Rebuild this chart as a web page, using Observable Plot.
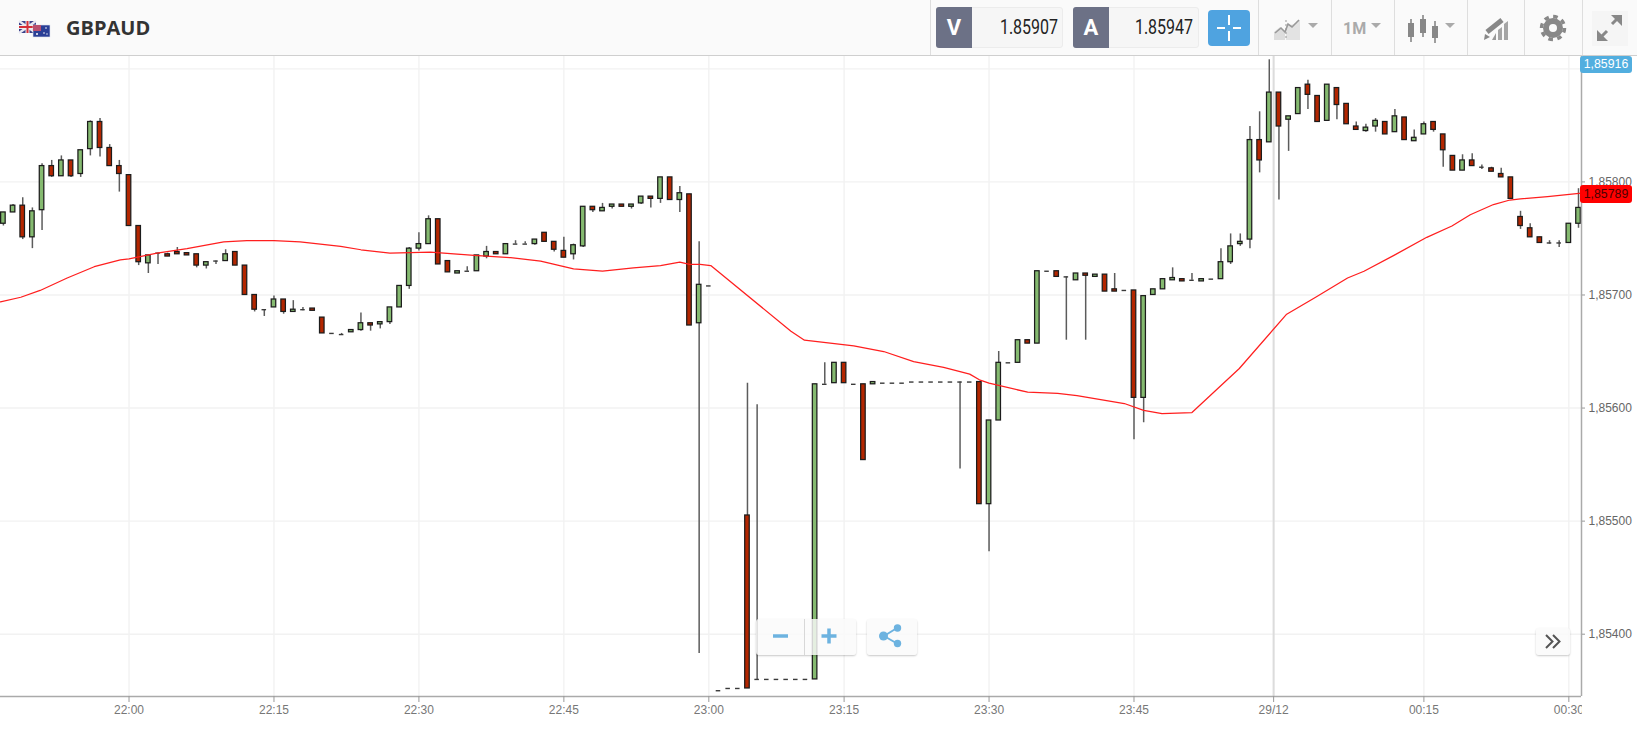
<!DOCTYPE html>
<html>
<head>
<meta charset="utf-8">
<script src="https://cdn.jsdelivr.net/npm/d3@7"></script>
<script src="https://cdn.jsdelivr.net/npm/@observablehq/plot@0.6"></script>
<style>
html,body{margin:0;padding:0;background:#fff;overflow:hidden}
#stage{position:relative;width:1637px;height:729px;overflow:hidden;font-family:"Liberation Sans",Arial,sans-serif}
#stage>*{position:absolute}
#chart{left:0;top:0}
#chart svg{display:block}
.sep{top:0;width:1px;height:55px;background:#dedede}
.vbox{top:7px;height:41px;background:#f6f6f6;border:1px solid #ececec;box-sizing:border-box;border-radius:3px}
.tag{top:7px;height:41px;width:36px;background:#6c7186;color:#fff;font:700 22px Roboto,sans-serif;line-height:41px;text-align:center;border-radius:3px 0 0 3px}
.num{top:7px;height:41px;color:#222;font:400 20px Roboto,sans-serif;line-height:41px;transform:scaleX(.8);transform-origin:center;text-align:center;width:80px}
.btn{background:rgba(250,250,250,.82);border-radius:3px;box-shadow:0 1px 2px rgba(0,0,0,.22)}
.badge{left:1580px;width:52px;text-align:center;font-size:12.3px;border-radius:3px}
</style>
</head>
<body>
<div id="stage">
  <div id="chart"></div>

  <!-- white strip that cuts the last time label at the price axis -->
  <div style="left:1582px;top:697px;width:55px;height:32px;background:#fff"></div>

  <!-- toolbar -->
  <div style="left:0;top:0;width:1637px;height:55px;background:#fafafa;border-bottom:1.5px solid #cfcfcf;box-sizing:content-box"></div>
  <div class="sep" style="left:930px"></div><div class="sep" style="left:1258px"></div>
  <div class="sep" style="left:1331px"></div><div class="sep" style="left:1394px"></div>
  <div class="sep" style="left:1467px"></div><div class="sep" style="left:1524px"></div>
  <div class="sep" style="left:1582px"></div>

  <div style="left:66px;top:13px;font:700 20px 'Open Sans',sans-serif;color:#333;line-height:30px">GBPAUD</div>

  <div class="vbox" style="left:936px;width:127px"></div>
  <div class="tag" style="left:936px">V</div>
  <div class="num" style="left:989px">1.85907</div>
  <div class="vbox" style="left:1073px;width:126px"></div>
  <div class="tag" style="left:1073px">A</div>
  <div class="num" style="left:1124px">1.85947</div>
  <div style="left:1208px;top:10px;width:42px;height:36px;background:#4fa3e0;border-radius:4px"></div>
  <div style="left:1343px;top:17px;font:700 16px Roboto,sans-serif;color:#aaa;line-height:24px">1M</div>
  <div style="left:1536px;top:628px;width:34px;height:27px" class="btn"></div>
  <div style="left:756px;top:619px;width:100px;height:36px" class="btn"></div>
  <div style="left:867px;top:619px;width:50px;height:36px" class="btn"></div>
  <div style="left:804px;top:619px;width:1px;height:36px;background:#d8d8d8"></div>

  <svg width="1637" height="729" style="left:0;top:0;pointer-events:none">
    <!-- flags -->
    <g><rect x="19" y="21" width="17" height="12" fill="#39418a"/>
      <path d="M19 21L36 33M36 21L19 33" stroke="#e9e9f2" stroke-width="2.4"/>
      <path d="M27.5 21V33M19 27H36" stroke="#eee" stroke-width="4"/>
      <path d="M27.5 21V33M19 27H36" stroke="#d4303a" stroke-width="2"/>
      <rect x="33" y="25" width="17" height="12" fill="#2a3f96" stroke="#dfe3ef" stroke-width=".6"/>
      <rect x="33" y="25" width="8" height="6" fill="#b9506f"/>
      <circle cx="37" cy="34" r="1" fill="#fff"/><circle cx="46" cy="28" r=".8" fill="#fff"/><circle cx="44" cy="33" r=".8" fill="#fff"/><circle cx="47" cy="34" r=".7" fill="#fff"/></g>
    <!-- crosshair -->
    <path d="M1229 15v10M1229 31v10M1217 28h8M1233 28h8" stroke="#fff" stroke-width="2" fill="none"/>
    <!-- chart type -->
    <path d="M1274 40V32L1280 27L1285 32V40Z" fill="#ddd"/><path d="M1286 40V26L1294 24L1300 20V40Z" fill="#e3e3e3"/>
    <path d="M1275 33L1281 28L1285 32L1288 24L1292 27L1299 20" stroke="#999" stroke-width="1.6" fill="none"/>
    <path d="M1286 20V40" stroke="#999" stroke-width="1" stroke-dasharray="2 2"/>
    <path d="M1308 23h10l-5 5z" fill="#aaa"/><path d="M1371 23h10l-5 5z" fill="#aaa"/><path d="M1445 23h10l-5 5z" fill="#aaa"/>
    <!-- candles -->
    <g stroke="#888" stroke-width="1.6"><path d="M1411 19V42M1423 15V37M1435 21V43"/></g>
    <g fill="#888"><rect x="1408" y="23" width="6" height="14"/><rect x="1420" y="19" width="6" height="14"/><rect x="1432" y="26" width="6" height="12"/></g>
    <!-- signal pencil -->
    <g fill="#a5a5a5"><path d="M1498 40V30L1502 27V40Z"/><path d="M1504 40V24L1508 21V40Z"/></g>
    <path d="M1487 32L1502 20" stroke="#888" stroke-width="5"/><path d="M1484 40L1485 34L1490 37Z" fill="#888"/><path d="M1492 40L1496 33V40Z" fill="#999"/>
    <!-- gear -->
    <circle cx="1553" cy="28" r="7" fill="none" stroke="#888" stroke-width="6"/>
    <circle cx="1553" cy="28" r="11.5" fill="none" stroke="#888" stroke-width="3.5" stroke-dasharray="4.6 4.4"/>
    <!-- expand -->
    <rect x="1592" y="11" width="36" height="35" fill="#f5f5f5"/>
    <g stroke="#888" stroke-width="3" fill="none"><path d="M1600 38L1607 31M1612 24L1619 17"/></g>
    <g fill="#888"><path d="M1597 30V41H1608Z"/><path d="M1622 26V15H1611Z"/></g>
    <!-- zoom -->
    <path d="M773 636h15" stroke="#6db3e0" stroke-width="3.5"/>
    <path d="M821.5 636h15M829 628.5v15" stroke="#6db3e0" stroke-width="3.5"/>
    <g fill="#6db3e0"><circle cx="883.5" cy="636" r="4.5"/><circle cx="897.5" cy="628" r="3.7"/><circle cx="897.5" cy="643.5" r="3.7"/></g>
    <path d="M884 636L897 628M884 636L897 643.5" stroke="#6db3e0" stroke-width="2"/>
    <path d="M1546 636l6.5 6.5l-6.5 6.5M1553 636l6.5 6.5l-6.5 6.5" transform="translate(0,-1)" fill="none" stroke="#555" stroke-width="2"/>
  </svg>

  <div class="badge" style="top:56px;height:17px;line-height:17px;background:#52aedf;color:#fff">1,85916</div>
  <div class="badge" style="top:185px;height:18px;line-height:18px;background:#ff0000;color:#4a0000">1,85789</div>
</div>

<script>
// OHLC prices, one candle per slot, first slot = -13 (slot 0 is 22:00)
const firstSlot = -13;
const opens = [
1.85763,1.85773,1.85779,1.85751,1.85775,1.85814,1.85805,1.85819,1.85807,1.85829,
1.85853,1.85830,1.85814,1.85806,1.85761,1.85728,1.85737,1.85736,1.85738,1.85737,
1.85736,1.85726,1.85730,1.85730,1.85738,1.85726,1.85700,1.85687,1.85689,1.85696,
1.85685,1.85687,1.85688,1.85680,1.85666,1.85665,1.85667,1.85669,1.85675,1.85674,
1.85676,1.85689,1.85708,1.85741,1.85745,1.85767,1.85730,1.85719,1.85721,1.85721,
1.85734,1.85738,1.85736,1.85745,1.85745,1.85745,1.85755,1.85747,1.85739,1.85736,
1.85743,1.85778,1.85774,1.85778,1.85780,1.85778,1.85781,1.85787,1.85785,1.85804,
1.85784,1.85789,1.85675,1.85708,1.85350,1.85352,1.85352,1.85505,1.85360,1.85360,
1.85360,1.85360,1.85360,1.85360,1.85360,1.85621,1.85622,1.85640,1.85621,1.85621,
1.85621,1.85622,1.85622,1.85622,1.85623,1.85623,1.85623,1.85623,1.85623,1.85623,
1.85623,1.85623,1.85515,1.85589,1.85640,1.85640,1.85660,1.85657,1.85721,1.85721,
1.85716,1.85713,1.85719,1.85716,1.85718,1.85705,1.85704,1.85704,1.85609,1.85700,
1.85705,1.85713,1.85714,1.85713,1.85712,1.85714,1.85714,1.85729,1.85745,1.85749,
1.85837,1.85835,1.85879,1.85855,1.85860,1.85886,1.85876,1.85854,1.85883,1.85869,
1.85849,1.85845,1.85849,1.85853,1.85844,1.85857,1.85836,1.85842,1.85853,1.85842,
1.85823,1.85810,1.85819,1.85813,1.85812,1.85807,1.85804,1.85769,1.85759,1.85751,
1.85746,1.85746,1.85746,1.85763];
const highs = [
1.85773,1.85780,1.85786,1.85777,1.85816,1.85819,1.85823,1.85819,1.85828,1.85854,
1.85856,1.85833,1.85819,1.85806,1.85761,1.85735,1.85737,1.85737,1.85742,1.85737,
1.85736,1.85729,1.85730,1.85740,1.85738,1.85726,1.85700,1.85687,1.85699,1.85696,
1.85695,1.85689,1.85688,1.85680,1.85666,1.85666,1.85669,1.85684,1.85675,1.85676,
1.85689,1.85708,1.85742,1.85755,1.85770,1.85767,1.85730,1.85721,1.85725,1.85735,
1.85743,1.85738,1.85745,1.85748,1.85747,1.85749,1.85755,1.85747,1.85751,1.85745,
1.85778,1.85778,1.85781,1.85780,1.85780,1.85780,1.85787,1.85787,1.85804,1.85804,
1.85796,1.85789,1.85747,1.85708,1.85350,1.85352,1.85352,1.85622,1.85603,1.85360,
1.85360,1.85360,1.85360,1.85360,1.85621,1.85640,1.85640,1.85640,1.85621,1.85621,
1.85623,1.85622,1.85622,1.85622,1.85623,1.85623,1.85623,1.85623,1.85623,1.85623,
1.85623,1.85623,1.85589,1.85650,1.85640,1.85660,1.85660,1.85721,1.85721,1.85721,
1.85716,1.85719,1.85719,1.85718,1.85718,1.85719,1.85704,1.85704,1.85699,1.85705,
1.85714,1.85724,1.85714,1.85719,1.85714,1.85714,1.85741,1.85754,1.85754,1.85849,
1.85862,1.85908,1.85879,1.85858,1.85883,1.85890,1.85876,1.85886,1.85883,1.85869,
1.85853,1.85851,1.85856,1.85853,1.85864,1.85857,1.85846,1.85853,1.85853,1.85842,
1.85823,1.85824,1.85825,1.85815,1.85813,1.85812,1.85804,1.85774,1.85763,1.85751,
1.85748,1.85748,1.85763,1.85794];
const lows = [
1.85761,1.85773,1.85749,1.85741,1.85757,1.85804,1.85805,1.85804,1.85804,1.85823,
1.85822,1.85814,1.85791,1.85761,1.85726,1.85719,1.85727,1.85734,1.85736,1.85735,
1.85724,1.85723,1.85727,1.85730,1.85726,1.85700,1.85685,1.85681,1.85689,1.85683,
1.85685,1.85686,1.85686,1.85666,1.85666,1.85665,1.85667,1.85668,1.85668,1.85670,
1.85674,1.85689,1.85705,1.85739,1.85745,1.85727,1.85720,1.85719,1.85721,1.85721,
1.85732,1.85736,1.85736,1.85745,1.85745,1.85744,1.85747,1.85738,1.85733,1.85731,
1.85742,1.85773,1.85774,1.85776,1.85778,1.85776,1.85780,1.85777,1.85781,1.85784,
1.85773,1.85673,1.85383,1.85708,1.85350,1.85352,1.85352,1.85352,1.85360,1.85360,
1.85360,1.85360,1.85360,1.85360,1.85360,1.85621,1.85622,1.85622,1.85621,1.85554,
1.85621,1.85622,1.85622,1.85622,1.85623,1.85623,1.85623,1.85623,1.85623,1.85546,
1.85623,1.85515,1.85473,1.85589,1.85640,1.85640,1.85657,1.85657,1.85721,1.85716,
1.85660,1.85713,1.85660,1.85716,1.85703,1.85703,1.85704,1.85572,1.85587,1.85700,
1.85705,1.85713,1.85712,1.85713,1.85712,1.85714,1.85714,1.85727,1.85743,1.85741,
1.85808,1.85835,1.85784,1.85827,1.85860,1.85864,1.85853,1.85854,1.85855,1.85851,
1.85846,1.85844,1.85844,1.85842,1.85844,1.85837,1.85836,1.85842,1.85844,1.85813,
1.85810,1.85810,1.85814,1.85811,1.85809,1.85804,1.85785,1.85758,1.85751,1.85746,
1.85745,1.85742,1.85746,1.85759];
const closes = [
1.85773,1.85779,1.85751,1.85774,1.85814,1.85805,1.85819,1.85805,1.85828,1.85853,
1.85830,1.85814,1.85807,1.85761,1.85729,1.85735,1.85737,1.85734,1.85736,1.85735,
1.85726,1.85729,1.85730,1.85736,1.85726,1.85700,1.85687,1.85687,1.85696,1.85685,
1.85687,1.85687,1.85686,1.85666,1.85666,1.85665,1.85669,1.85675,1.85673,1.85676,
1.85689,1.85708,1.85741,1.85745,1.85767,1.85727,1.85720,1.85721,1.85721,1.85735,
1.85738,1.85736,1.85745,1.85745,1.85745,1.85749,1.85747,1.85740,1.85733,1.85744,
1.85778,1.85775,1.85777,1.85780,1.85778,1.85780,1.85787,1.85785,1.85804,1.85784,
1.85790,1.85673,1.85709,1.85708,1.85350,1.85352,1.85352,1.85352,1.85360,1.85360,
1.85360,1.85360,1.85360,1.85360,1.85621,1.85621,1.85640,1.85622,1.85621,1.85554,
1.85623,1.85622,1.85622,1.85622,1.85623,1.85623,1.85623,1.85623,1.85623,1.85623,
1.85623,1.85515,1.85589,1.85640,1.85640,1.85660,1.85657,1.85721,1.85721,1.85716,
1.85716,1.85719,1.85717,1.85718,1.85703,1.85703,1.85704,1.85609,1.85699,1.85705,
1.85714,1.85715,1.85712,1.85713,1.85714,1.85714,1.85729,1.85743,1.85747,1.85837,
1.85819,1.85879,1.85849,1.85858,1.85883,1.85877,1.85853,1.85886,1.85868,1.85851,
1.85846,1.85848,1.85854,1.85842,1.85858,1.85837,1.85839,1.85851,1.85846,1.85828,
1.85810,1.85819,1.85814,1.85813,1.85809,1.85804,1.85785,1.85761,1.85751,1.85746,
1.85746,1.85746,1.85763,1.85777];

// red moving average
const maSlots = [-13.3,-11.2,-9.2,-6.4,-3.6,-0.9,0,2.9,6,9.8,12.2,15,17.7,21.9,24,27,31.2,35.7,39.5,42.6,46,49,52.2,55,57,58,59.1,60.2,68.5,69.9,75,78.1,81.2,84.3,87,88,89,93,96.1,98.1,103,105,106.9,110,114.9,119.8,122.8,126.1,127.8,130.9,134.3,136.9,138.8,141.2,142.9,144,146.8,150.31];
const maValues = [1.85694,1.85698,1.85704,1.85715,1.85725,1.85731,1.85732,1.85737,1.85741,1.85747,1.85748,1.85748,1.85747,1.85743,1.85740,1.85737,1.85738,1.85735,1.85733,1.85730,1.85723,1.85721,1.85724,1.85726,1.85729,1.85727,1.85727,1.85726,1.85668,1.85660,1.85655,1.85650,1.85641,1.85636,1.85630,1.85625,1.85622,1.85614,1.85613,1.85611,1.85604,1.85598,1.85595,1.85596,1.85635,1.85683,1.85698,1.85715,1.85721,1.85735,1.85751,1.85761,1.85771,1.85780,1.85784,1.85785,1.85787,1.85790];

const timeSlots = [0,15,30,45,60,74,89,104,118.45,134,149];
const timeLabels = ["22:00","22:15","22:30","22:45","23:00","23:15","23:30","23:45","29/12","00:15","00:30"];
const gridPrices = [1.854,1.855,1.856,1.857,1.858,1.859];
const priceTicks = [1.854,1.855,1.856,1.857,1.858];
const dateSlot = [118.45];

const candles = opens.map((o,k)=>({slot:firstSlot+k,open:o,high:highs[k],low:lows[k],close:closes[k]}));
const bodies = candles.filter(d=>d.open!==d.close);
const dojis = candles.filter(d=>d.open===d.close);
const ma = maSlots.map((s,k)=>({slot:s,value:maValues[k]}));
const halfBody = 0.235;

const slotMin=-13.3, slotMax=150.31;
const priceMin=1.853449, priceMax=1.859118;

const plot = Plot.plot({
  width:1637, height:729,
  marginLeft:0, marginRight:56, marginTop:55, marginBottom:33,
  x:{domain:[slotMin,slotMax],range:[0,1581]},
  y:{domain:[priceMin,priceMax],range:[696,55]},
  style:{fontFamily:"'Liberation Sans',Arial,sans-serif",fontSize:"12px",background:"#fff",overflow:"visible"},
  marks:[
    Plot.gridX(timeSlots,{stroke:"#f2f2f2",strokeOpacity:1,strokeWidth:1.4}),
    Plot.gridY(gridPrices,{stroke:"#f2f2f2",strokeOpacity:1,strokeWidth:1.4}),
    Plot.ruleX(dateSlot,{stroke:"#dcdcdc",strokeWidth:2}),
    Plot.ruleX(candles.filter(d=>d.high!==d.low),{x:"slot",y1:"low",y2:"high",stroke:"#5c5c5c",strokeWidth:1.5,clip:true}),
    Plot.ruleY(dojis,{y:"open",x1:d=>d.slot-halfBody,x2:d=>d.slot+halfBody,stroke:"#3a3a3a",strokeWidth:1.4}),
    Plot.rect(bodies,{x1:d=>d.slot-halfBody,x2:d=>d.slot+halfBody,y1:"open",y2:"close",
      fill:d=>d.close>=d.open?"#85ba70":"#b32600",stroke:"#1c1c1c",strokeWidth:1.25,clip:true}),
    Plot.line(ma,{x:"slot",y:"value",stroke:"#ff1f1f",strokeWidth:1.25}),
    Plot.ruleY([priceMin],{stroke:"#aaa",strokeWidth:1.5}),
    Plot.ruleX([slotMax],{stroke:"#aaa",strokeWidth:1.5}),
    Plot.axisX({ticks:timeSlots,tickFormat:d=>timeLabels[timeSlots.indexOf(d)],anchor:"bottom",
      tickSize:6,tickPadding:3,label:null,stroke:"#999",fill:"#777",fontSize:12}),
    Plot.axisY({ticks:priceTicks,tickFormat:d=>d.toFixed(5).replace(".",","),anchor:"right",
      tickSize:3,tickPadding:4,label:null,stroke:"#999",fill:"#666",fontSize:12})
  ]
});
document.getElementById("chart").appendChild(plot);
</script>
</body>
</html>
